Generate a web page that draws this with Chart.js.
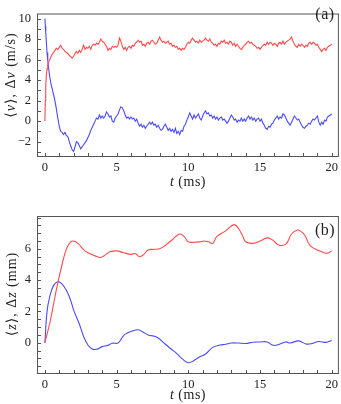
<!DOCTYPE html>
<html>
<head>
<meta charset="utf-8">
<script src="https://cdn.jsdelivr.net/npm/chart.js@4.4.1/dist/chart.umd.min.js"></script>
<style>
  body { margin: 0; background: #fff; }
  #wrap { position: relative; width: 341px; height: 404px; font-family: "Liberation Serif", "DejaVu Serif", serif; color: #222; }
  .panel { position: absolute; left: 0; width: 341px; }
  .lbl { position: absolute; white-space: nowrap; font-size: 14px; letter-spacing: 0.5px; transform: translate(-50%, -50%); }
  .ylbl { transform: translate(-50%, -50%) rotate(-90deg); letter-spacing: 1px; }
  .tag { font-size: 16px; letter-spacing: 0.5px; }
</style>
</head>
<body>
<div id="wrap">
  <div class="panel" style="top:0;height:200px"><canvas id="chartA"></canvas></div>
  <div class="panel" style="top:200px;height:204px"><canvas id="chartB"></canvas></div>
  <div class="lbl" style="left:188px;top:182px"><i>t</i> (ms)</div>
  <div class="lbl ylbl" style="left:10px;top:75px">⟨<i>v</i>⟩, Δ<i>v</i> (m/s)</div>
  <div class="lbl tag" style="left:325px;top:14px">(a)</div>
  <div class="lbl" style="left:188px;top:395px"><i>t</i> (ms)</div>
  <div class="lbl ylbl" style="left:11px;top:294px">⟨<i>z</i>⟩, Δ<i>z</i> (mm)</div>
  <div class="lbl tag" style="left:325px;top:230px">(b)</div>
</div>
<script>
// panel (a): velocity, sampled in ms
const tA = [
  0, 0.03, 0.06, 0.1, 0.15, 0.2, 0.25, 0.3, 0.4, 0.5, 0.6, 0.7, 0.8, 0.9,
  1.0, 1.1, 1.2, 1.3, 1.4, 1.5, 1.6, 1.7, 1.8, 1.9,
  2.0, 2.1, 2.2, 2.3, 2.4, 2.5, 2.6, 2.7, 2.8, 2.9,
  3.0, 3.1, 3.2, 3.3, 3.4, 3.5, 3.6, 3.7, 3.8, 3.9,
  4.0, 4.1, 4.2, 4.3, 4.4, 4.5, 4.6, 4.7, 4.8, 4.9,
  5.0, 5.1, 5.2, 5.3, 5.4, 5.5, 5.6, 5.7, 5.8, 5.9,
  6.0, 6.1, 6.2, 6.3, 6.4, 6.5, 6.6, 6.7, 6.8, 6.9,
  7.0, 7.1, 7.2, 7.3, 7.4, 7.5, 7.6, 7.7, 7.8, 7.9,
  8.0, 8.1, 8.2, 8.3, 8.4, 8.5, 8.6, 8.7, 8.8, 8.9,
  9.0, 9.1, 9.2, 9.3, 9.4, 9.5, 9.6, 9.7, 9.8, 9.9,
  10.0, 10.1, 10.2, 10.3, 10.4, 10.5, 10.6, 10.7, 10.8, 10.9,
  11.0, 11.1, 11.2, 11.3, 11.4, 11.5, 11.6, 11.7, 11.8, 11.9,
  12.0, 12.1, 12.2, 12.3, 12.4, 12.5, 12.6, 12.7, 12.8, 12.9,
  13.0, 13.1, 13.2, 13.3, 13.4, 13.5, 13.6, 13.7, 13.8, 13.9,
  14.0, 14.1, 14.2, 14.3, 14.4, 14.5, 14.6, 14.7, 14.8, 14.9,
  15.0, 15.1, 15.2, 15.3, 15.4, 15.5, 15.6, 15.7, 15.8, 15.9,
  16.0, 16.1, 16.2, 16.3, 16.4, 16.5, 16.6, 16.7, 16.8, 16.9,
  17.0, 17.1, 17.2, 17.3, 17.4, 17.5, 17.6, 17.7, 17.8, 17.9,
  18.0, 18.1, 18.2, 18.3, 18.4, 18.5, 18.6, 18.7, 18.8, 18.9,
  19.0, 19.1, 19.2, 19.3, 19.4, 19.5, 19.6, 19.7, 19.8, 19.9,
  20.0
];
const vSpread = [
  0, 2.0, 3.4, 4.4, 5.1, 5.5, 5.75, 5.9, 6.2, 6.5, 6.7, 6.9, 7.1, 7.0,
  7.2, 7.4, 7.1, 7.0, 6.8, 6.7, 6.6, 6.4, 6.3, 6.15,
  6.3, 6.6, 6.8, 6.6, 6.9, 6.7, 7.0, 7.4, 7.0, 7.2,
  7.1, 7.3, 7.0, 7.4, 7.5, 7.4, 7.6, 7.5, 7.7, 8.0,
  7.8, 7.7, 7.5, 7.3, 6.9, 7.1, 7.0, 7.3, 7.2, 7.3,
  7.2, 7.4, 8.1, 7.8, 7.3, 7.0, 7.2, 6.9, 7.2, 7.3,
  7.1, 7.4, 7.3, 7.6, 7.7, 7.9, 7.7, 7.8, 7.4, 7.5,
  7.3, 7.6, 7.7, 7.5, 7.8, 7.9, 7.7, 7.5, 7.6, 7.9,
  8.2, 7.9, 7.7, 7.8, 7.6, 7.7, 7.8, 7.5, 7.6, 7.3,
  7.4, 7.2, 7.3, 7.0, 7.1, 6.9, 7.1, 7.0, 7.2, 7.5,
  7.7, 7.6, 7.9, 8.1, 7.9, 7.7, 7.8, 7.6, 7.9, 7.7,
  7.8, 7.9, 8.1, 7.9, 7.8, 8.0, 7.7, 7.6, 7.4, 7.5,
  7.3, 7.6, 7.5, 7.8, 7.7, 7.9, 7.6, 7.7, 7.5, 7.8,
  7.7, 7.4, 7.6, 7.3, 7.5, 7.3, 7.1, 7.0, 7.2, 7.4,
  7.5, 7.7, 7.8, 7.6, 7.7, 7.5, 7.4, 7.3, 7.1, 7.2,
  7.0, 7.2, 7.4, 7.5, 7.4, 7.7, 7.5, 7.7, 7.6, 7.4,
  7.6, 7.5, 7.3, 7.6, 7.7, 7.5, 7.8, 7.5, 7.7, 7.8,
  7.9, 8.0, 8.2, 7.8, 7.5, 7.3, 7.2, 7.5, 7.3, 7.5,
  7.4, 7.2, 7.4, 7.3, 7.6, 7.7, 7.5, 7.7, 7.6, 7.4,
  7.5, 7.2, 7.0, 6.8, 7.0, 7.1, 6.9, 7.2, 7.3, 7.4,
  7.5
];
const vMean = [
  10, 9.3, 8.6, 7.7, 6.7, 5.9, 5.3, 4.7, 3.8, 3.2, 2.6, 2.0, 1.2, 0.3,
  -0.5, -1.0, -1.1, -1.3, -1.1, -1.4, -1.5, -2.0, -2.4, -2.8,
  -2.95, -2.5, -2.0, -2.1, -2.4, -2.7, -2.5, -2.3, -2.1, -1.9,
  -1.6, -1.3, -0.9, -0.6, -0.3, 0.0, 0.3, 0.2, 0.6, 0.3,
  0.5, 0.3, 0.5, 0.9, 0.7, 0.4, 0.5, 0.0, -0.1, 0.3,
  0.5, 0.7, 1.1, 1.4, 1.3, 1.0, 0.6, 0.3, 0.4, 0.2,
  0.4, 0.2, 0.3, 0.0, 0.2, -0.2, -0.5, -0.3, -0.6, -0.4,
  -0.7, -0.5, -0.3, -0.1, -0.3, -0.1, -0.4, -0.3, -0.6, -0.4,
  -0.7, -0.9, -0.8, -0.5, -0.3, -0.6, -0.9, -0.7, -1.0, -0.8,
  -1.1, -0.7, -1.2, -1.0, -1.3, -0.9, -1.0, -0.5, -0.3, 0.1,
  0.4, 0.8, 0.5, 0.2, 0.6, 0.3, 0.5, 0.7, 0.3, 0.1,
  0.5, 0.8, 1.0, 0.7, 0.8, 0.5, 0.6, 0.3, 0.5, 0.2,
  0.4, 0.1, 0.3, 0.4, 0.1, 0.2, 0.0, -0.2, 0.0, 0.3,
  0.6, 0.4, 0.1, 0.2, -0.1, 0.1, 0.0, 0.3, 0.0, 0.2,
  0.0, 0.3, 0.5, 0.2, 0.4, 0.1, 0.3, 0.0, 0.2, 0.3,
  0.0, 0.2, -0.2, -0.4, -0.7, -0.8, -0.5, -0.6, -0.3, -0.2,
  0.1, 0.3, 0.5, 0.2, 0.4, 0.3, 0.7, 0.6, 0.3, 0.0,
  -0.2, -0.4, -0.1, 0.2, 0.5, 0.3, 0.1, 0.2, -0.1, -0.4,
  -0.6, -0.7, -0.5, -0.4, -0.2, -0.3, 0.0, 0.2, 0.1, 0.3,
  0.5, -0.1, -0.4, -0.1, -0.3, 0.1, 0.0, 0.4, 0.5, 0.6,
  0.7
];

// panel (b): position, smooth curves
const tSpreadB = [0, 0.4, 0.8, 1.2, 1.5, 1.8, 2.0, 2.3, 2.7, 3.0, 3.5, 3.9, 4.2, 4.5, 5.0, 5.5, 6.0, 6.3, 6.6, 6.9,
  7.2, 7.6, 8.0, 8.5, 8.9, 9.4, 9.7, 10.0, 10.4, 10.8, 11.1, 11.4, 11.7, 12.0, 12.6, 13.2, 13.5, 13.8, 14.0, 14.5,
  15.0, 15.5, 15.9, 16.3, 16.8, 17.2, 17.6, 17.8, 18.1, 18.5, 19.0, 19.4, 19.7, 20.0];
const zSpread = [0, 1.5, 3.4, 5.0, 6.0, 6.45, 6.5, 6.35, 5.95, 5.75, 5.55, 5.45, 5.6, 5.8, 5.87, 5.75, 5.65, 5.7, 5.5, 5.65,
  5.93, 5.97, 6.0, 6.3, 6.6, 6.95, 6.8, 6.45, 6.42, 6.45, 6.5, 6.45, 6.35, 6.8, 7.15, 7.55, 7.3, 6.8, 6.45, 6.35,
  6.5, 6.7, 6.55, 6.25, 6.3, 6.95, 7.2, 7.15, 6.9, 6.2, 5.92, 5.78, 5.72, 5.87];
const tMeanB = [0, 0.15, 0.35, 0.6, 0.9, 1.2, 1.5, 1.8, 2.0, 2.4, 2.7, 3.0, 3.3, 3.6, 4.0, 4.4, 4.7, 5.1, 5.4, 5.6,
  6.0, 6.5, 6.8, 7.2, 7.6, 7.9, 8.4, 8.8, 9.2, 9.6, 10.0, 10.4, 10.8, 11.2, 11.7, 12.2, 12.6, 13.0, 13.5, 14.0,
  14.5, 15.0, 15.5, 15.8, 16.0, 16.3, 16.8, 17.1, 17.7, 18.2, 18.6, 19.1, 19.6, 20.0];
const zMean = [0, 2.0, 3.0, 3.65, 3.9, 3.75, 3.35, 2.7, 2.1, 1.2, 0.4, -0.15, -0.4, -0.42, -0.25, -0.17, -0.03, -0.02, 0.35, 0.55,
  0.72, 0.83, 0.7, 0.5, 0.42, 0.3, -0.1, -0.4, -0.7, -1.05, -1.28, -1.13, -0.9, -0.72, -0.3, -0.15, -0.1, -0.02, -0.02, -0.05,
  0.03, 0.05, 0.05, -0.12, -0.18, -0.12, 0.05, -0.02, 0.12, -0.08, -0.06, 0.08, 0.02, 0.15];

// ticks
const xLabels = [0, 5, 10, 15, 20];
const xMinor = [0, 1, 2, 3, 4, 5, 6, 7, 8, 9, 10, 11, 12, 13, 14, 15, 16, 17, 18, 19, 20];
const yLabelsA = [-2, 0, 2, 4, 6, 8, 10];
const yMinorA = [-3, -2, -1, 0, 1, 2, 3, 4, 5, 6, 7, 8, 9, 10];
const yLabelsB = [0, 2, 4, 6];
const yMinorB = [-1.5, -1, -0.5, 0, 0.5, 1, 1.5, 2, 2.5, 3, 3.5, 4, 4.5, 5, 5.5, 6, 6.5, 7, 7.5, 8];

const RED = "#ff4a4a";
const BLUE = "#4a4aff";
const FONT = { family: "'Liberation Serif', 'DejaVu Serif', serif", size: 12.5 };

const frame = {
  id: "frame",
  afterDatasetsDraw(chart, args, opts) {
    const { ctx, chartArea: a, scales } = chart;
    ctx.save();
    ctx.strokeStyle = "#555";
    ctx.lineWidth = 1;
    ctx.beginPath();
    opts.xTicks.forEach(v => {
      const x = Math.round(scales.x.getPixelForValue(v)) + 0.5;
      ctx.moveTo(x, a.bottom);
      ctx.lineTo(x, a.bottom - 4);
    });
    opts.yTicks.forEach(v => {
      const y = Math.round(scales.y.getPixelForValue(v)) + 0.5;
      ctx.moveTo(a.left, y);
      ctx.lineTo(a.left + 4, y);
    });
    ctx.stroke();
    ctx.strokeRect(a.left + 0.5, a.top + 0.5, a.right - a.left - 1, a.bottom - a.top - 1);
    ctx.restore();
  }
};

function fmt(v) {
  return String(v).replace("-", "\u2212");
}

function makeChart(id, sets, yMin, yMax, yLabels, yMinor, xH, padTop, smooth) {
  return new Chart(document.getElementById(id), {
    type: "line",
    data: {
      datasets: sets.map(s => ({
        data: s.t.map((t, i) => ({ x: t, y: s.y[i] })),
        borderColor: s.color,
        borderWidth: smooth ? 1.1 : 1.1,
        pointRadius: 0,
        tension: smooth ? 0.4 : 0,
        fill: false
      }))
    },
    options: {
      responsive: true,
      maintainAspectRatio: false,
      animation: false,
      layout: { padding: { top: padTop, right: 1, left: 0, bottom: 0 } },
      plugins: {
        legend: { display: false },
        tooltip: { enabled: false },
        frame: { xTicks: xMinor, yTicks: yMinor }
      },
      scales: {
        x: {
          type: "linear",
          min: -0.55,
          max: 20.5,
          grid: { display: false, drawTicks: false },
          border: { display: false },
          afterBuildTicks: s => { s.ticks = xLabels.map(v => ({ value: v })); },
          afterFit: s => { s.height = xH; },
          ticks: { font: FONT, color: "#222", padding: 3, maxRotation: 0, callback: fmt }
        },
        y: {
          min: yMin,
          max: yMax,
          grid: { display: false, drawTicks: false },
          border: { display: false },
          afterBuildTicks: s => { s.ticks = yLabels.map(v => ({ value: v })); },
          afterFit: s => { s.width = 37; },
          ticks: { font: FONT, color: "#222", padding: 6, callback: fmt }
        }
      }
    },
    plugins: [frame]
  });
}

makeChart("chartA", [
  { t: tA, y: vSpread, color: RED },
  { t: tA, y: vMean, color: BLUE }
], -3.5, 10.5, yLabelsA, yMinorA, 43, 0, false);

makeChart("chartB", [
  { t: tSpreadB, y: zSpread, color: RED },
  { t: tMeanB, y: zMean, color: BLUE }
], -2.0, 8.1, yLabelsB, yMinorB, 30, 16, true);
</script>
</body>
</html>
